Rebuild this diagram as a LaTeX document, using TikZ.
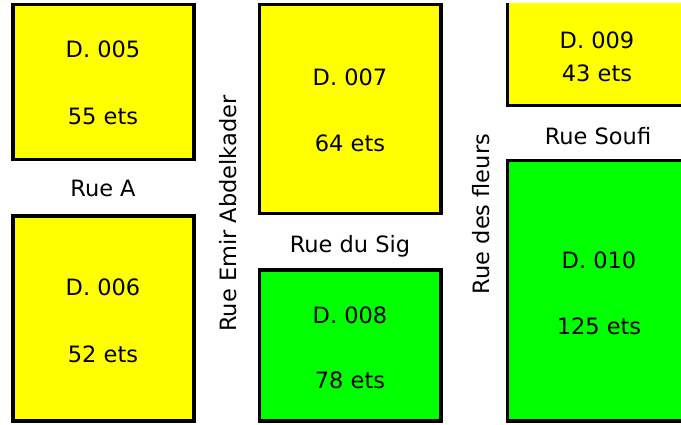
\documentclass[tikz,border=0pt]{standalone}
\usepackage{fontspec}
\setmainfont{DejaVu Sans}
\definecolor{blkyellow}{RGB}{255,255,0}
\definecolor{blkgreen}{RGB}{0,255,0}
\begin{document}
\begin{tikzpicture}[x=1pt,y=-1pt,
  block/.style={line width=3.3pt},
  lbl/.style={font=\fontsize{22.5}{26}\selectfont, inner sep=0pt, text height=16.4pt, text depth=0pt}]
\useasboundingbox (0,0) rectangle (681,425);
\clip (0,0) rectangle (681,425);
% blocks
\draw[block, fill=blkyellow] (13,4.7) rectangle (194,159.3);
\draw[block, fill=blkyellow] (13,216) rectangle (194,421);
\draw[block, fill=blkyellow] (259.5,4.7) rectangle (441,213.5);
\draw[block, fill=blkgreen] (259.5,270) rectangle (441,421);
\fill[blkyellow] (507.5,3.3) rectangle (690,105.5);
\draw[block] (507.5,3.3) -- (507.5,105.5) -- (690,105.5);
\draw[block, fill=blkgreen] (507.5,160.5) rectangle (690,421);
% block labels
\node[lbl] (n005) at (103,49.5) {D. 005};
\node[lbl] (e005) at (103,116) {55 ets};
\node[lbl] (n006) at (103,287) {D. 006};
\node[lbl] (e006) at (103,354) {52 ets};
\node[lbl] (n007) at (350,77) {D. 007};
\node[lbl] (e007) at (350,143) {64 ets};
\node[lbl] (n008) at (350,315) {D. 008};
\node[lbl] (e008) at (350,380) {78 ets};
\node[lbl] (n009) at (597,40) {D. 009};
\node[lbl] (e009) at (597,73.5) {43 ets};
\node[lbl] (n010) at (599,260) {D. 010};
\node[lbl] (e010) at (599,326) {125 ets};
% street names
\node[lbl] (rueA) at (103,188) {Rue A};
\node[lbl] (rueSig) at (350,244) {Rue du Sig};
\node[lbl] (rueSoufi) at (598,136) {Rue Soufi};
\node[lbl, rotate=90] (rueEmir) at (228,213.5) {Rue Emir Abdelkader};
\node[lbl, rotate=90] (rueFleurs) at (481,214) {Rue des fleurs};
\end{tikzpicture}
\end{document}
